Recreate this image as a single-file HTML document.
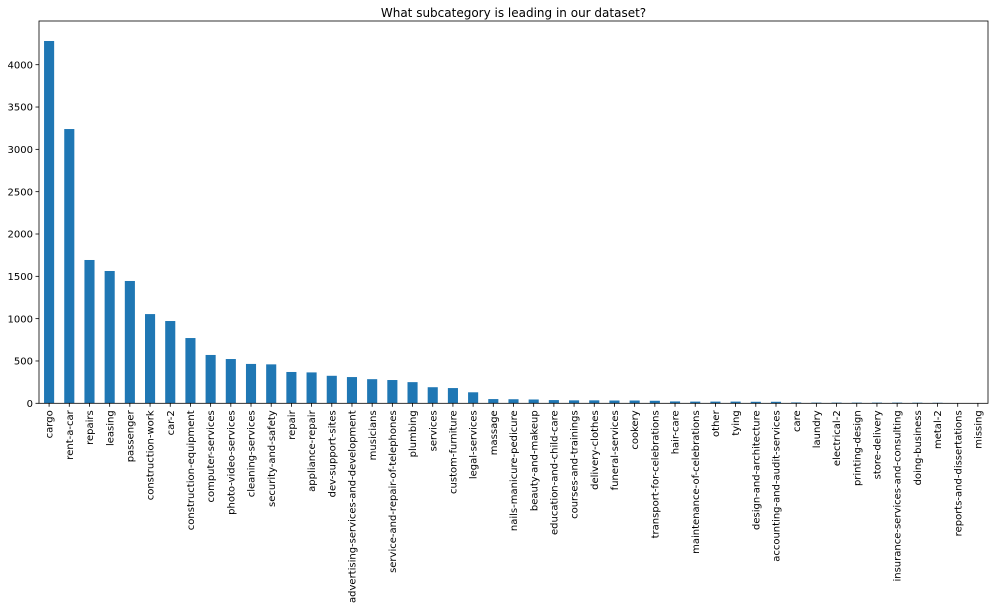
<!DOCTYPE html>
<html><head><meta charset="utf-8"><style>
body{margin:0;background:#fff;}
svg{display:block;font-family:"DejaVu Sans","Liberation Sans",sans-serif;}
</style></head><body>
<svg id="chart" width="995" height="610" viewBox="0 0 995 610" xmlns="http://www.w3.org/2000/svg">
<rect width="995" height="610" fill="#fff"/>
<text x="513.5" y="17" font-size="12" text-anchor="middle" fill="#000">What subcategory is leading in our dataset?</text>
<g id="bars"></g><g id="xticks"></g><g id="yticks"></g>
<rect x="39" y="21" width="949" height="382.3" fill="none" stroke="#000" stroke-width="0.8"/>
</svg>
<script>
const categories=["cargo","rent-a-car","repairs","leasing","passenger","construction-work","car-2","construction-equipment","computer-services","photo-video-services","cleaning-services","security-and-safety","repair","appliance-repair","dev-support-sites","advertising-services-and-development","musicians","service-and-repair-of-telephones","plumbing","services","custom-furniture","legal-services","massage","nails-manicure-pedicure","beauty-and-makeup","education-and-child-care","courses-and-trainings","delivery-clothes","funeral-services","cookery","transport-for-celebrations","hair-care","maintenance-of-celebrations","other","tying","design-and-architecture","accounting-and-audit-services","care","laundry","electrical-2","printing-design","store-delivery","insurance-services-and-consulting","doing-business","metal-2","reports-and-dissertations","missing"];
const values=[4280,3240,1693,1563,1445,1054,972,771,571,523,465,460,370,365,325,310,285,275,250,190,180,130,50,48,45,38,35,35,33,33,30,22,20,20,20,18,18,10,8,8,8,8,8,7,6,1,1];
const yTicks=[0,500,1000,1500,2000,2500,3000,3500,4000];
const NS="http://www.w3.org/2000/svg";
const L=39,R=988,B=403.3,pxPerUnit=338.6/4000;
const n=categories.length,step=(R-L)/n,bw=step*0.5;
const xc=i=>L+step*(i+0.5);
const y=v=>B-v*pxPerUnit;
const gb=document.getElementById('bars'),gx=document.getElementById('xticks'),gy=document.getElementById('yticks');
categories.forEach((c,i)=>{
 const r=document.createElementNS(NS,'rect');
 
 
 r.setAttribute('x',xc(i)-bw/2);r.setAttribute('width',bw);
 r.setAttribute('y',y(values[i]));r.setAttribute('height',B-y(values[i]));
 r.setAttribute('fill','#1f77b4');gb.appendChild(r);
 const t=document.createElementNS(NS,'line');
 
 
 t.setAttribute('x1',xc(i));t.setAttribute('x2',xc(i));t.setAttribute('y1',B);t.setAttribute('y2',B+3.5);
 t.setAttribute('stroke','#000');t.setAttribute('stroke-width','0.8');gx.appendChild(t);
 const tx=document.createElementNS(NS,'text');
 
 
 tx.setAttribute('font-size','10');tx.setAttribute('text-anchor','end');
 tx.setAttribute('transform','translate('+(xc(i)+3.6)+','+(B+7)+') rotate(-90)');
 tx.textContent=c;gx.appendChild(tx);
});
yTicks.forEach(v=>{
 const t=document.createElementNS(NS,'line');
 
 
 t.setAttribute('x1',L-3.5);t.setAttribute('x2',L);t.setAttribute('y1',y(v));t.setAttribute('y2',y(v));
 t.setAttribute('stroke','#000');t.setAttribute('stroke-width','0.8');gy.appendChild(t);
 const tx=document.createElementNS(NS,'text');
 
 
 tx.setAttribute('font-size','10');tx.setAttribute('text-anchor','end');
 tx.setAttribute('x',L-6);tx.setAttribute('y',y(v)+3.6);
 tx.textContent=v;gy.appendChild(tx);
});
</script>
</body></html>
